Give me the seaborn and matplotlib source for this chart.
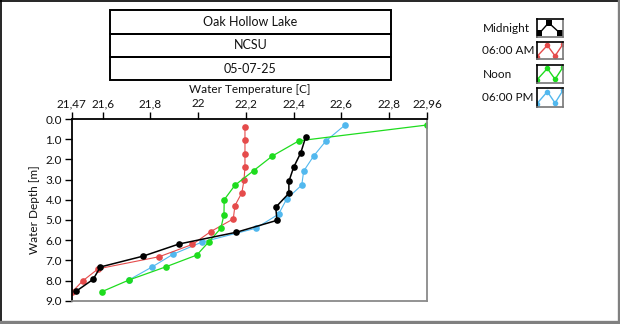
import matplotlib
matplotlib.use("Agg")
import matplotlib.pyplot as plt
import seaborn as sns
import pandas as pd
from matplotlib.patches import Rectangle
from matplotlib.lines import Line2D

sns.set_theme(style="white")
plt.rcParams['font.family'] = ['Lato', 'DejaVu Sans']

# ---------------- data ----------------
title_lines = ["Oak Hollow Lake", "NCSU", "05-07-25"]
series_names = ["Midnight", "06:00 AM", "Noon", "06:00 PM"]

midnight_depth = [0.91, 1.67, 2.39, 3.09, 3.68, 4.37, 5.02, 5.61, 6.19, 6.79, 7.33, 7.94, 8.52]
midnight_temp = [22.45, 22.43, 22.40, 22.38, 22.38, 22.325, 22.33, 22.16, 21.92, 21.77, 21.59, 21.56, 21.49]

am_depth = [0.38, 1.04, 1.72, 2.38, 3.02, 3.65, 4.29, 4.95, 5.58, 6.21, 6.82, 7.42, 8.02, 8.55]
am_temp = [22.196, 22.196, 22.196, 22.196, 22.192, 22.183, 22.154, 22.147, 22.052, 21.976, 21.837, 21.581, 21.516, 21.473]

noon_depth = [0.30, 1.08, 1.83, 2.56, 3.28, 4.00, 4.74, 5.41, 6.08, 6.74, 7.32, 7.97, 8.55]
noon_temp = [22.957, 22.422, 22.311, 22.232, 22.154, 22.109, 22.108, 22.095, 22.045, 21.994, 21.865, 21.711, 21.597]

pm_depth = [0.30, 1.09, 1.83, 2.58, 3.27, 3.96, 4.71, 5.41, 6.10, 6.71, 7.32, 7.97]
pm_temp = [22.615, 22.535, 22.484, 22.442, 22.434, 22.371, 22.337, 22.242, 22.015, 21.893, 21.808, 21.71]

x_ticks = [21.47, 21.6, 21.8, 22.0, 22.2, 22.4, 22.6, 22.8, 22.96]
x_tick_labels = ["21,47", "21,6", "21,8", "22", "22,2", "22,4", "22,6", "22,8", "22,96"]
y_ticks = [0, 1, 2, 3, 4, 5, 6, 7, 8, 9]
y_tick_labels = ["0.0", "1.0", "2.0", "3.0", "4.0", "5.0", "6.0", "7.0", "8.0", "9.0"]

x_label = "Water Temperature [C]"
y_label = "Water Depth [m]"

colors = {"Midnight": "#000000", "06:00 AM": "#E54B4B",
          "Noon": "#1EDC1E", "06:00 PM": "#52B8EE"}
widths = {"Midnight": 1.1, "06:00 AM": 0.8, "Noon": 0.9, "06:00 PM": 0.8}

frames = []
for name, d, t in [("Midnight", midnight_depth, midnight_temp),
                   ("06:00 AM", am_depth, am_temp),
                   ("Noon", noon_depth, noon_temp),
                   ("06:00 PM", pm_depth, pm_temp)]:
    frames.append(pd.DataFrame({"depth": d, "temp": t, "series": name}))
df = pd.concat(frames, ignore_index=True)

# ---------------- figure ----------------
W, H = 620, 324
fig = plt.figure(figsize=(W / 100, H / 100), dpi=100)
fig.patch.set_facecolor("white")


def px_rect(x0, y0, x1, y1):
    return [x0 / W, 1 - y1 / H, (x1 - x0) / W, (y1 - y0) / H]


ax = fig.add_axes(px_rect(71.7, 119, 427.3, 300.7))
draw_order = ["06:00 PM", "06:00 AM", "Noon", "Midnight"]
for name in draw_order:
    sub = df[df["series"] == name]
    sns.lineplot(data=sub, x="temp", y="depth", sort=False, estimator=None,
                 color=colors[name], linewidth=widths[name], marker="o",
                 markersize=4.8, markeredgewidth=0, ax=ax, legend=False)

ax.set_xlim(21.47, 22.96)
ax.set_ylim(9, 0)
ax.xaxis.tick_top()
ax.xaxis.set_label_position("top")
ax.set_xticks(x_ticks)
ax.set_xticklabels(x_tick_labels)
ax.set_yticks(y_ticks)
ax.set_yticklabels(y_tick_labels)
ax.tick_params(axis="both", direction="out", length=5, width=1, color="black",
               labelsize=8.5, pad=2, labelcolor="#111111")
ax.tick_params(axis="x", top=True, bottom=False)
ax.tick_params(axis="y", left=True, right=False)
ax.set_xlabel(x_label, fontsize=8.5, labelpad=4, color="#111111")
ax.set_ylabel(y_label, fontsize=8.5, labelpad=4, color="#111111")
ax.grid(False)
ax.set_facecolor("white")
for side in ["left", "top"]:
    ax.spines[side].set_color("black")
    ax.spines[side].set_linewidth(1.3)
for side in ["right", "bottom"]:
    ax.spines[side].set_color("#8a8a8a")
    ax.spines[side].set_linewidth(1.3)

# ---------------- title boxes ----------------
row_edges = [10, 33.6, 57.3, 80.2]
for i, txt in enumerate(title_lines):
    y0, y1 = row_edges[i], row_edges[i + 1]
    r = Rectangle((110 / W, 1 - y1 / H), (391 - 110) / W, (y1 - y0) / H,
                  transform=fig.transFigure, fill=False, edgecolor="black",
                  linewidth=1.4)
    fig.add_artist(r)
    fig.text(250.5 / W, 1 - ((y0 + y1) / 2) / H, txt, ha="center", va="center",
             fontsize=9, color="#111111")

# ---------------- legend ----------------
leg_rows = [(19.3, 36.7), (42.3, 59.3), (65.3, 82.7), (88.3, 106.7)]
for name, (y0, y1) in zip(series_names, leg_rows):
    fig.text(482.5 / W, 1 - ((y0 + y1) / 2) / H, name, ha="left", va="center",
             fontsize=8.5, color="#111111")
    iax = fig.add_axes(px_rect(536.7, y0, 563.3, y1))
    iax.set_xlim(0, 1)
    iax.set_ylim(0, 1)
    iax.set_xticks([])
    iax.set_yticks([])
    iax.set_facecolor("white")
    for side in ["left", "top"]:
        iax.spines[side].set_color("black")
        iax.spines[side].set_linewidth(1.2)
    for side in ["right", "bottom"]:
        iax.spines[side].set_color("#777777")
        iax.spines[side].set_linewidth(1.2)
    if name == "Midnight":
        xs, ys, mk = [0.1, 0.45, 0.88], [0.2, 0.8, 0.2], "s"
    else:
        xs, ys, mk = [0.0, 0.4, 0.69, 1.0], [0.15, 0.82, 0.2, 0.92], "o"
    iax.plot(xs, ys, color=colors[name], linewidth=1.0, marker=mk,
             markersize=4, markeredgewidth=0)

# ---------------- outer frame ----------------
fig.add_artist(Line2D([1 / W, 1 / W], [0, 1], transform=fig.transFigure,
                      color="black", linewidth=1.2))
fig.add_artist(Line2D([0, 1], [1 - 0.8 / H, 1 - 0.8 / H], transform=fig.transFigure,
                      color="black", linewidth=1.2))
fig.add_artist(Line2D([618.8 / W, 618.8 / W], [0, 1], transform=fig.transFigure,
                      color="#808080", linewidth=2.4))
fig.add_artist(Line2D([0, 1], [1 - 322.3 / H, 1 - 322.3 / H], transform=fig.transFigure,
                      color="#808080", linewidth=2.4))

fig.savefig("out.png", dpi=100, facecolor="white")
